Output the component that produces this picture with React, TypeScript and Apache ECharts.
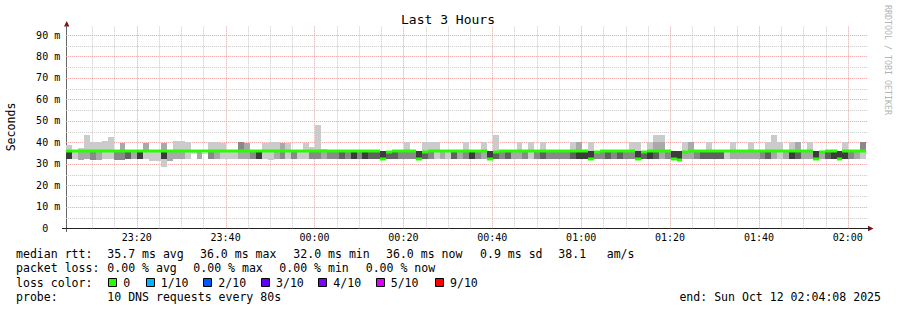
import React, { useEffect, useRef } from 'react';
import * as echarts from 'echarts';

// time in minutes relative to 00:00 (23:04:08 -> 02:04:08, 80 s steps)
const START_MIN = -(55 + 52 / 60);
const END_MIN = 124 + 8 / 60;
const SLOT_MIN = 80 / 60;
const Y_MAX = 94.2;

const median = [
  36, 36, 36, 36, 36, 36, 36, 36, 36, 36,
  36, 36, 36, 36, 36, 36, 36, 36, 36, 36,
  36, 36, 36, 36, 36, 36, 36, 36, 36, 36,
  36, 36, 36, 36, 36, 36, 36, 36, 36, 36,
  36, 36, 36, 36, 36, 36, 36, 36, 36, 36,
  36, 36, 36, 32.3, 35.5, 36, 36, 36, 36, 32.3,
  35.5, 36, 36, 36, 36, 36, 36, 36, 36, 36,
  36, 32.3, 35.5, 36, 36, 36, 36, 36, 36, 36,
  36, 36, 36, 36, 36, 36, 36, 36, 32.3, 35.5,
  36, 36, 36, 36, 36, 36, 32.3, 35.5, 36, 36,
  36, 36, 32.3, 31.6, 35.5, 36, 36, 36, 36, 36,
  36, 36, 36, 36, 36, 36, 36, 36, 36, 36,
  36, 36, 36, 36, 36, 36, 32.3, 35.5, 36, 36,
  32.3, 36, 36, 36, 36,
];

const low = [
  32.5, 32.3, 32, 32.5, 32, 32, 32.3, 32.3, 32, 32,
  32.3, 32.3, 32.3, 32.3, 31.5, 31.5, 32.3, 31.5, 32.3, 32.3,
  32.3, 35, 32.3, 36, 32.3, 32.3, 32.3, 32.3, 32.3, 32.3,
  32.3, 32.3, 32.3, 32.5, 32, 32.3, 32.3, 32.3, 32.3, 32.3,
  32.3, 32.3, 32.3, 32.3, 32.3, 32.3, 32.3, 32.3, 32.3, 32.3,
  32.3, 32.3, 32.3, 32.3, 32.3, 32.3, 32.3, 32.3, 32.3, 32.3,
  32.3, 32.3, 32.3, 32.3, 32.3, 32.3, 32.3, 32.3, 32.3, 32.3,
  32.3, 32.3, 32.3, 32.3, 32.3, 32.3, 32.3, 32.3, 32.3, 32.3,
  32.3, 32.3, 32.3, 32.3, 32.3, 32.3, 32.3, 32.3, 32.3, 32.3,
  32.3, 32.3, 32.3, 32.3, 32.3, 32.3, 32.3, 32.3, 32.3, 32.3,
  32.3, 32.3, 32.3, 31.6, 32.3, 32.3, 32.5, 32.3, 32.3, 32.3,
  32.3, 32.3, 32.3, 32.3, 32.3, 32.3, 32.3, 32.3, 32.3, 32.3,
  32.3, 32.3, 32.3, 32.3, 32.3, 32.3, 32.3, 32.3, 32.3, 32.3,
  32.3, 32.3, 32.3, 32.3, 32.3,
];

const lowShade = [
  5, 1, 2, 2, 3, 2, 1, 1, 3, 3,
  4, 2, 5, 1, 1, 1, 5, 2, 2, 2,
  1, 1, 2, 0, 3, 2, 1, 1, 1, 2,
  2, 3, 5, 1, 1, 2, 3, 1, 3, 1,
  1, 3, 3, 2, 3, 3, 4, 3, 5, 3,
  5, 4, 4, 0, 4, 4, 3, 3, 3, 0,
  4, 3, 1, 2, 1, 4, 2, 3, 5, 3,
  2, 0, 4, 3, 4, 2, 2, 3, 1, 3,
  4, 3, 3, 3, 3, 4, 5, 5, 0, 3,
  3, 4, 3, 4, 3, 3, 0, 4, 5, 4,
  2, 3, 0, 0, 2, 2, 3, 4, 4, 4,
  4, 1, 2, 2, 2, 2, 2, 3, 4, 2,
  1, 2, 5, 4, 2, 2, 0, 2, 4, 5,
  0, 5, 3, 2, 1,
];

const high = [
  39, 36, 37.5, 36, 40, 40, 40.5, 42.7, 36, 39.5,
  36, 36, 36, 39.5, 36, 36, 39.5, 36, 40.5, 40.5,
  40, 36, 36, 36, 40, 40, 39.5, 36, 36, 40,
  39.5, 36, 36, 39.5, 40, 40, 39.5, 39.5, 36, 36,
  39.5, 38, 36, 37, 36, 36, 36, 36, 36, 36,
  36, 36, 36, 36, 36, 36, 36, 40, 36, 36,
  40, 40, 40, 36, 36, 36, 36, 40, 36, 36,
  40, 36, 36, 36, 36, 36, 40, 36, 40, 36,
  40, 36, 36, 36, 36, 40, 40, 36, 36, 36,
  36, 36, 36, 36, 36, 40, 36, 36, 40, 40,
  40, 36, 36, 36, 40, 40, 36, 36, 40, 36,
  36, 36, 40, 36, 36, 40, 36, 36, 40, 40,
  40, 36, 40, 40, 36, 40, 36, 36, 36, 36,
  36, 40, 36, 36, 40,
];

const highShade = [
  1, 0, 1, 0, 1, 1, 1, 1, 0, 2,
  0, 0, 0, 2, 0, 0, 2, 0, 1, 1,
  1, 0, 0, 0, 1, 1, 1, 0, 0, 3,
  2, 0, 0, 1, 1, 1, 2, 1, 0, 0,
  1, 1, 0, 1, 0, 0, 0, 0, 0, 0,
  0, 0, 0, 5, 0, 0, 0, 1, 0, 5,
  1, 1, 1, 0, 0, 0, 0, 1, 0, 0,
  1, 5, 0, 0, 0, 0, 1, 0, 1, 0,
  1, 0, 0, 0, 0, 1, 2, 0, 5, 0,
  0, 0, 0, 0, 0, 1, 5, 0, 1, 2,
  2, 0, 5, 5, 1, 2, 0, 0, 1, 0,
  0, 0, 1, 0, 0, 1, 0, 0, 1, 1,
  1, 0, 1, 2, 0, 1, 5, 0, 0, 0,
  5, 1, 0, 0, 3,
];

const peak = [
  0, 0, 0, 43.5, 0, 0, 0, 0, 0, 0,
  0, 0, 0, 0, 0, 0, 0, 0, 0, 0,
  0, 0, 0, 0, 0, 0, 0, 0, 0, 0,
  0, 0, 0, 0, 0, 0, 0, 0, 0, 0,
  0, 0, 48, 0, 0, 0, 0, 0, 0, 0,
  0, 0, 0, 0, 0, 0, 0, 0, 0, 0,
  0, 0, 0, 0, 0, 0, 0, 0, 0, 0,
  0, 0, 43.3, 0, 0, 0, 0, 0, 0, 0,
  0, 0, 0, 0, 0, 0, 0, 0, 40, 0,
  0, 0, 0, 0, 0, 0, 40, 0, 0, 43.6,
  43.6, 0, 0, 0, 0, 0, 0, 0, 0, 0,
  0, 0, 0, 0, 0, 0, 0, 0, 0, 43.6,
  0, 0, 0, 0, 0, 0, 0, 0, 0, 0,
  0, 0, 0, 0, 0,
];

const dip = [
  0, 0, 0, 0, 0, 0, 0, 0, 0, 0,
  0, 0, 0, 0, 0, 0, 28.7, 0, 0, 0,
];

const xMajorTicks = [-40, -20, 0, 20, 40, 60, 80, 100, 120];
const xMinorTicks = [-50, -45, -35, -30, -25, -15, -10, -5, 5, 10, 15, 25, 30, 35, 45, 50, 55, 65, 70, 75, 85, 90, 95, 105, 110, 115];
const yMajorTicks = [10, 20, 30, 40, 50, 60, 70, 80, 90];
const yMinorTicks = [5, 15, 25, 35, 45, 55, 65, 75, 85];

const lossLabels = ['0', '1/10', '2/10', '3/10', '4/10', '5/10', '9/10'];
const lossColors = ['#26ff00', '#00b8ff', '#0059ff', '#5e00ff', '#7e00ff', '#dd00ff', '#ff0000'];

const SHADES = ['', '#cbcbcb', '#a9a9a9', '#898989', '#616161', '#3c3c3c'];
const MONO = 'DejaVu Sans Mono';
const MAJOR_GRID = '#f39a9a';
const MINOR_GRID = '#c9c9c9';

function fmtTime(v: number) {
  let m = Math.round(v);
  if (m < 0) m += 1440;
  const h = Math.floor(m / 60);
  const mm = m % 60;
  return String(h).padStart(2, '0') + ':' + String(mm).padStart(2, '0');
}

function buildOption() {
  const rows = median.map((m, i) => [
    START_MIN + i * SLOT_MIN,
    START_MIN + (i + 1) * SLOT_MIN,
    m,
    low[i],
    high[i],
    peak[i],
    dip[i] || 0,
    lowShade[i],
    highShade[i],
  ]);

  const smokeRender = (params: any, api: any) => {
    const t0 = api.value(0);
    const t1 = api.value(1);
    const med = api.value(2);
    const lo = api.value(3);
    const hi = api.value(4);
    const pk = api.value(5);
    const dp = api.value(6);
    const ls = api.value(7);
    const hs = api.value(8);
    const x0 = Math.round(api.coord([t0, 0])[0]);
    const x1 = Math.round(api.coord([t1, 0])[0]);
    const py = (v: number) => Math.round(api.coord([t0, v])[1]);
    const children: any[] = [];
    const band = (a: number, b: number, shade: number) => {
      const ya = py(a);
      const yb = py(b);
      if (ya - yb <= 0) return;
      children.push({
        type: 'rect',
        shape: { x: x0, y: yb, width: x1 - x0, height: ya - yb },
        style: { fill: SHADES[shade] },
      });
    };
    if (dp > 0) band(dp, lo, 1);
    if (pk > 0) band(Math.max(hi, med), pk, 1);
    if (ls > 0 && lo < med) band(lo, med, ls);
    if (hs > 0 && hi > med) band(med, hi, hs);
    return { type: 'group', children };
  };

  const medianRender = (params: any, api: any) => {
    const t0 = api.value(0);
    const t1 = api.value(1);
    const med = api.value(2);
    const x0 = Math.round(api.coord([t0, med])[0]);
    const x1 = Math.round(api.coord([t1, med])[0]);
    const y = Math.round(api.coord([t0, med])[1]);
    return {
      type: 'rect',
      shape: { x: x0, y: y - 1.5, width: x1 - x0, height: 3 },
      style: { fill: '#26ff00' },
    };
  };

  const vGridRender = (params: any, api: any) => {
    const v = api.value(0);
    const major = api.value(1);
    const x = Math.round(api.coord([v, 0])[0]) + 0.5;
    const yb = api.coord([v, 0])[1];
    const yt = api.coord([v, Y_MAX])[1];
    return {
      type: 'line',
      shape: { x1: x, y1: yb, x2: x, y2: yt },
      style: { stroke: major ? MAJOR_GRID : MINOR_GRID, lineWidth: 1, lineDash: [1, 1] },
    };
  };

  const hGridRender = (params: any, api: any) => {
    const v = api.value(1);
    const major = api.value(2);
    const y = Math.round(api.coord([START_MIN, v])[1]) + 0.5;
    const xl = api.coord([START_MIN, v])[0];
    const xr = api.coord([END_MIN, v])[0] + 2;
    return {
      type: 'line',
      shape: { x1: xl, y1: y, x2: xr, y2: y },
      style: { stroke: major ? MAJOR_GRID : MINOR_GRID, lineWidth: 1, lineDash: [1, 1] },
    };
  };

  const vGridData = [
    ...xMinorTicks.map((v) => [v, 0]),
    ...xMajorTicks.map((v) => [v, 1]),
  ];
  const hGridData = [
    ...yMinorTicks.map((v) => [START_MIN, v, 0]),
    ...yMajorTicks.map((v) => [START_MIN, v, 1]),
  ];

  const text = (x: number, y: number, s: string, extra: any = {}) => ({
    type: 'text',
    x,
    y,
    silent: true,
    style: {
      text: s,
      fill: '#000',
      font: `11.55px "${MONO}"`,
      textAlign: 'left',
      textVerticalAlign: 'middle',
      ...extra,
    },
  });

  const L1 = 254.3;
  const L2 = 268.3;
  const L3 = 282.6;
  const L4 = 296.7;
  const boxX = [108.3, 145.7, 203.3, 261, 318.3, 376, 435];
  const labX = [123.3, 160.7, 218.3, 276, 333.3, 390.7, 450];

  const graphic: any[] = [
    text(448, 19.3, 'Last 3 Hours', { textAlign: 'center', font: `13px "${MONO}"` }),
    {
      type: 'text',
      x: 11,
      y: 127,
      rotation: Math.PI / 2,
      silent: true,
      style: { text: 'Seconds', fill: '#000', font: `11.55px "${MONO}"`, textAlign: 'center', textVerticalAlign: 'middle' },
    },
    {
      type: 'text',
      x: 887.5,
      y: 60,
      rotation: -Math.PI / 2,
      silent: true,
      style: { text: 'RRDTOOL / TOBI OETIKER', fill: '#b4b4b4', font: `8.3px "${MONO}"`, textAlign: 'center', textVerticalAlign: 'middle' },
    },
    // axis arrows & extension
    { type: 'polygon', silent: true, shape: { points: [[66.7, 21], [64, 26.5], [69.4, 26.5]] }, style: { fill: '#7f1010' } },
    { type: 'polygon', silent: true, shape: { points: [[873.5, 228.5], [868, 225.8], [868, 231.2]] }, style: { fill: '#7f1010' } },
    { type: 'line', silent: true, shape: { x1: 62, y1: 228.5, x2: 67, y2: 228.5 }, style: { stroke: '#222', lineWidth: 1 } },
    { type: 'line', silent: true, shape: { x1: 866, y1: 228.5, x2: 869, y2: 228.5 }, style: { stroke: '#222', lineWidth: 1 } },
    { type: 'line', silent: true, shape: { x1: 66.5, y1: 228, x2: 66.5, y2: 232 }, style: { stroke: '#666', lineWidth: 1 } },
    // legend
    text(16, L1, 'median rtt:'),
    text(107.3, L1, '35.7 ms avg'),
    text(200, L1, '36.0 ms max'),
    text(293.3, L1, '32.0 ms min'),
    text(386, L1, '36.0 ms now'),
    text(480, L1, '0.9 ms sd'),
    text(558.3, L1, '38.1'),
    text(606.7, L1, 'am/s'),
    text(16, L2, 'packet loss:'),
    text(107.3, L2, '0.00 % avg'),
    text(193.3, L2, '0.00 % max'),
    text(279.3, L2, '0.00 % min'),
    text(365.7, L2, '0.00 % now'),
    text(16, L3, 'loss color:'),
    text(16, L4, 'probe:'),
    text(107.3, L4, '10 DNS requests every 80s'),
    text(881, L4, 'end: Sun Oct 12 02:04:08 2025', { textAlign: 'right' }),
  ];
  lossLabels.forEach((lab, i) => {
    graphic.push({
      type: 'rect',
      silent: true,
      shape: { x: Math.round(boxX[i]) + 0.5, y: 278.5, width: 8, height: 8 },
      style: { fill: lossColors[i], stroke: '#000', lineWidth: 1 },
    });
    graphic.push(text(labX[i], L3, lab));
  });

  return {
    animation: false,
    backgroundColor: '#ffffff',
    grid: { left: 66.2, top: 26, width: 800, height: 202.3, containLabel: false, outerBoundsMode: 'none' },
    xAxis: {
      type: 'value',
      min: START_MIN,
      max: END_MIN,
      axisLine: { show: true, onZero: false, lineStyle: { color: '#222', width: 1 } },
      axisTick: { show: false, customValues: xMajorTicks },
      splitLine: { show: false },
      minorSplitLine: { show: false },
      axisLabel: {
        customValues: xMajorTicks,
        formatter: (v: number) => fmtTime(v),
        fontFamily: MONO,
        fontSize: 10,
        color: '#000',
        margin: 4,
      },
    },
    yAxis: {
      type: 'value',
      min: 0,
      max: Y_MAX,
      interval: 10,
      axisLine: { show: true, onZero: false, lineStyle: { color: '#666', width: 1 } },
      axisTick: { show: false },
      splitLine: { show: false },
      axisLabel: {
        showMaxLabel: false,
        formatter: (v: number) => (v === 0 ? '{z|0}' : `${v} m`),
        rich: { z: { padding: [0, 12, 0, 0], fontFamily: MONO, fontSize: 10, color: '#000' } },
        fontFamily: MONO,
        fontSize: 10,
        color: '#000',
        margin: 6,
      },
    },
    series: [
      {
        type: 'custom',
        name: 'vgrid',
        silent: true,
        z: 1,
        renderItem: vGridRender,
        encode: { x: 0 },
        data: vGridData,
      },
      {
        type: 'custom',
        name: 'hgrid',
        silent: true,
        z: 1,
        renderItem: hGridRender,
        encode: { x: 0, y: 1 },
        data: hGridData,
      },
      {
        type: 'custom',
        name: 'smoke',
        silent: true,
        z: 2,
        renderItem: smokeRender,
        encode: { x: [0, 1], y: [3, 4] },
        data: rows,
      },
      {
        type: 'custom',
        name: 'median rtt',
        silent: true,
        z: 4,
        renderItem: medianRender,
        encode: { x: [0, 1], y: 2 },
        data: rows,
      },
    ],
    graphic,
  };
}

export default function App() {
  const ref = useRef<HTMLDivElement>(null);
  useEffect(() => {
    const chart = echarts.init(ref.current!, null, { renderer: 'svg' });
    chart.setOption(buildOption() as any);
    return () => chart.dispose();
  }, []);
  return (
    <div
      ref={ref}
      style={{ position: 'fixed', left: 0, top: 0, width: 897, height: 310, background: '#fff' }}
    />
  );
}
